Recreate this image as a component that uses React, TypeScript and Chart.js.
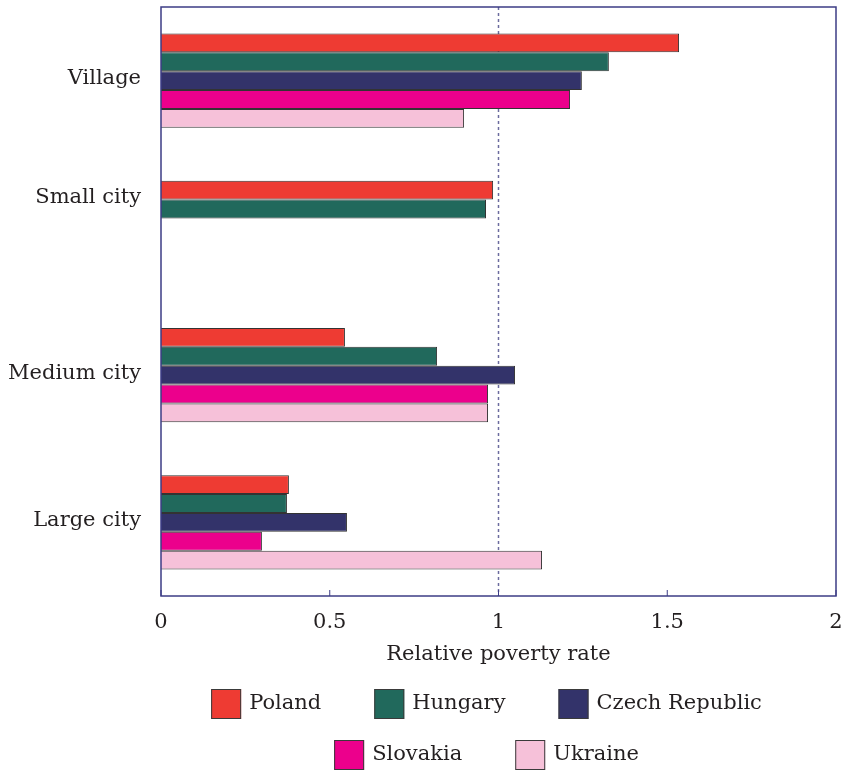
import React, { useEffect, useRef } from "react";
import { Chart, registerables } from "chart.js";

Chart.register(...registerables);

const categories = ["Village", "Small city", "Medium city", "Large city"];
const seriesNames = ["Poland", "Hungary", "Czech Republic", "Slovakia", "Ukraine"];
const poland = [1.535, 0.984, 0.545, 0.379];
const hungary = [1.327, 0.963, 0.818, 0.373];
const czech = [1.247, null, 1.049, 0.551];
const slovakia = [1.212, null, 0.969, 0.299];
const ukraine = [0.898, null, 0.969, 1.129];
const xTicks = [0, 0.5, 1, 1.5, 2];
const referenceValue = 1;
const axisTitle = "Relative poverty rate";
const legendRows = [3, 2];

const colors = ["#EE3B33", "#21695C", "#33336A", "#EC008C", "#F6C1D9"];
const FONT = "'DejaVu Serif', serif";
const FRAME = "#3d3d85";

export default function App() {
  const ref = useRef<HTMLCanvasElement | null>(null);

  useEffect(() => {
    if (!ref.current) return;
    const values = [poland, hungary, czech, slovakia, ukraine];

    const overlay = {
      id: "overlay",
      beforeDatasetsDraw(chart: any) {
        const { ctx, chartArea } = chart;
        const xs = chart.scales.x;
        const x = xs.getPixelForValue(referenceValue);
        ctx.save();
        ctx.strokeStyle = "#6b6b9e";
        ctx.lineWidth = 1.5;
        ctx.setLineDash([3, 3]);
        ctx.beginPath();
        ctx.moveTo(x, chartArea.top);
        ctx.lineTo(x, chartArea.bottom);
        ctx.stroke();
        ctx.restore();
      },
      afterDraw(chart: any) {
        const { ctx, chartArea } = chart;
        const xs = chart.scales.x;
        ctx.save();
        // frame
        ctx.strokeStyle = FRAME;
        ctx.lineWidth = 1.5;
        ctx.strokeRect(chartArea.left, chartArea.top, chartArea.right - chartArea.left, chartArea.bottom - chartArea.top);
        // inward ticks
        ctx.lineWidth = 1;
        xTicks.forEach((t) => {
          const px = xs.getPixelForValue(t);
          ctx.beginPath();
          ctx.moveTo(px, chartArea.bottom);
          ctx.lineTo(px, chartArea.bottom - 6);
          ctx.stroke();
        });
        // category labels centred on the bars that are present
        ctx.fillStyle = "#231f20";
        ctx.font = `21px ${FONT}`;
        ctx.textAlign = "right";
        ctx.textBaseline = "middle";
        categories.forEach((cat, i) => {
          let sum = 0;
          let n = 0;
          chart.data.datasets.forEach((ds: any, d: number) => {
            if (ds.data[i] != null) {
              const el = chart.getDatasetMeta(d).data[i];
              sum += el.y;
              n++;
            }
          });
          const y = n ? sum / n : chart.scales.y.getPixelForValue(i);
          ctx.fillText(cat, chartArea.left - 20, y - 2);
        });
        // axis title
        ctx.textAlign = "center";
        ctx.fillText(axisTitle, (chartArea.left + chartArea.right) / 2, chartArea.bottom + 59);
        // legend
        const box = 30;
        const gap = 8;
        const itemGap = 53;
        const cx = (chartArea.left + chartArea.right) / 2 - 12;
        let idx = 0;
        legendRows.forEach((count, r) => {
          const items = chart.data.datasets.slice(idx, idx + count);
          const widths = items.map((ds: any) => box + gap + ctx.measureText(ds.label).width);
          const total = widths.reduce((a: number, b: number) => a + b, 0) + itemGap * (count - 1);
          let x = cx - total / 2;
          const y = chartArea.bottom + 108 + r * 51;
          items.forEach((ds: any, k: number) => {
            ctx.fillStyle = ds.backgroundColor;
            ctx.fillRect(x, y - box / 2, box, box);
            ctx.strokeStyle = "#3a3a3a";
            ctx.lineWidth = 1;
            ctx.strokeRect(x + 0.5, y - box / 2 + 0.5, box - 1, box - 1);
            ctx.fillStyle = "#231f20";
            ctx.textAlign = "left";
            ctx.fillText(ds.label, x + box + gap, y);
            x += widths[k] + itemGap;
          });
          idx += count;
        });
        ctx.restore();
      },
    };

    const chart = new Chart(ref.current, {
      type: "bar",
      data: {
        labels: categories,
        datasets: seriesNames.map((name, i) => ({
          label: name,
          data: values[i],
          backgroundColor: colors[i],
          borderColor: "#333333",
          borderWidth: 1,
          barPercentage: 1,
          categoryPercentage: 0.64,
        })),
      },
      options: {
        indexAxis: "y",
        animation: false,
        responsive: false,
        devicePixelRatio: 1,
        layout: { padding: { top: 7, right: 6, left: 0, bottom: 0 } },
        plugins: { legend: { display: false }, tooltip: { enabled: false } },
        scales: {
          x: {
            type: "linear",
            min: 0,
            max: 2,
            afterBuildTicks: (scale: any) => {
              scale.ticks = xTicks.map((v) => ({ value: v }));
            },
            afterFit: (scale: any) => {
              scale.height = 180;
              scale.paddingLeft = 0;
              scale.paddingRight = 0;
            },
            grid: { display: false, drawTicks: false },
            border: { display: false },
            ticks: {
              padding: 14,
              color: "#231f20",
              font: { family: FONT, size: 21 },
              maxRotation: 0,
              callback: (v: any) => String(v),
            },
          },
          y: {
            type: "category",
            afterFit: (scale: any) => {
              scale.width = 161;
            },
            grid: { display: false, drawTicks: false },
            border: { display: false },
            ticks: { display: false },
          },
        },
      },
      plugins: [overlay],
    } as any);

    return () => chart.destroy();
  }, []);

  return (
    <div style={{ position: "absolute", left: 0, top: 0 }}>
      <canvas ref={ref} width={842} height={776} style={{ display: "block", width: 842, height: 776 }} />
    </div>
  );
}
